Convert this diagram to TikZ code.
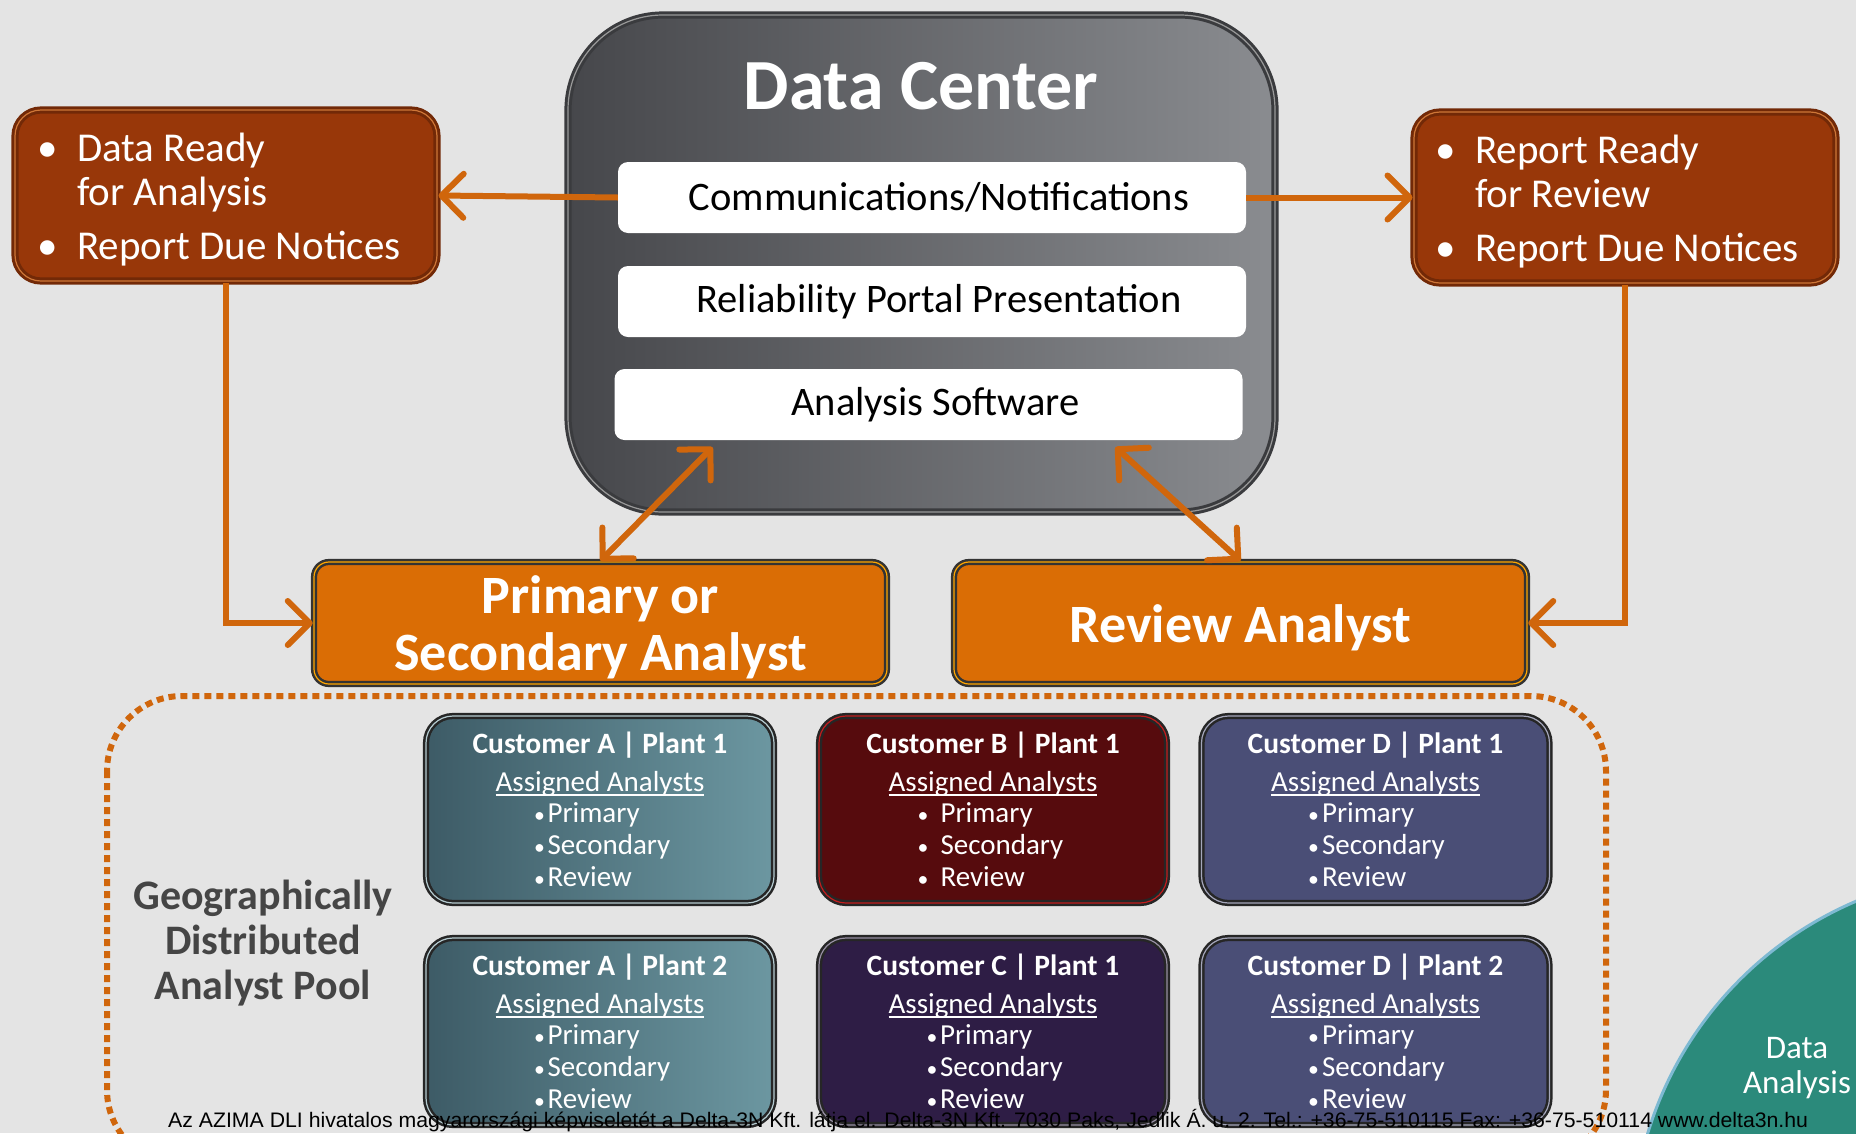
\documentclass[tikz,border=0pt]{standalone}
\usepackage{fontspec}
\setmainfont{Carlito}
\newfontfamily\footfont{Liberation Sans}
\usetikzlibrary{arrows.meta,positioning}

\definecolor{bggray}{HTML}{E4E4E4}
\definecolor{dcdark}{HTML}{46474B}
\definecolor{dclight}{HTML}{8A8C90}
\definecolor{rim}{HTML}{3A3B3E}
\definecolor{linkorange}{HTML}{D0660C}
\definecolor{boxorange}{HTML}{DA6D05}
\definecolor{boxbrown}{HTML}{983709}
\definecolor{tealA}{HTML}{3D5B66}
\definecolor{tealB}{HTML}{6C97A1}
\definecolor{wine}{HTML}{560B0D}
\definecolor{plum}{HTML}{2E1D45}
\definecolor{slate}{HTML}{4A4E76}
\definecolor{geo}{HTML}{454545}
\definecolor{sea}{HTML}{2B8A7B}

\newcommand\uln[1]{\setbox0\hbox{#1}\rlap{\rule[-4pt]{\wd0}{1.5pt}}\box0}
\newcommand\dotb{\scalebox{0.75}{\textbullet}}

\tikzset{
  dcbox/.style={rounded corners=95pt, left color=dcdark, right color=dclight,
    draw=rim, line width=3pt, double=gray!80, double distance=1.2pt,
    minimum width=707, minimum height=497},
  panel/.style={fill=white, rounded corners=10pt, minimum width=628, minimum height=71,
    font=\fontsize{40.5}{44}\selectfont},
  note/.style={rounded corners=26pt, fill=boxbrown, draw=boxbrown!75!black, line width=3pt,
    double=boxbrown!60!orange!80!white, double distance=1.2pt,
    minimum width=422, minimum height=171},
  notetext/.style={text=white, inner sep=0pt, anchor=west, font=\fontsize{41}{44}\selectfont},
  analyst/.style={rounded corners=15pt, fill=boxorange, draw=gray!40!black, line width=2.5pt,
    double=orange!70!yellow, double distance=1.2pt, minimum width=573, minimum height=122},
  analysttext/.style={text=white, align=center, font=\bfseries\fontsize{54}{57}\selectfont},
  cust/.style={rounded corners=27pt, draw=gray!30!black, line width=2.5pt,
    double distance=1.2pt, minimum width=348, minimum height=187},
  ctext/.style={text=white, inner sep=0pt, font=\fontsize{29}{32}\selectfont},
  link/.style={draw=linkorange, line width=6pt, ->},
  twoway/.style={draw=linkorange, line width=6pt, <->},
  >={Straight Barb[length=22pt,width=44pt,line cap=round,line join=round]}
}

\begin{document}
\begin{tikzpicture}[x=1pt,y=-1pt]
\useasboundingbox (0,0) rectangle (1856,1133);
\clip (0,0) rectangle (1856,1133);
\fill[bggray] (0,0) rectangle (1856,1133);

% data center
\node[dcbox] (dc) at (921.5,263.5) {};
\node[text=white, font=\bfseries\fontsize{72}{76}\selectfont] (dctitle) at (921,86) {Data Center};
\node[panel] (comm) at (932,197.5) {\hspace*{14pt}Communications/Notifications};
\node[panel] (portal) at (932,301.5) {\hspace*{14pt}Reliability Portal Presentation};
\node[panel] (soft) at (928.5,404.5) {\hspace*{14pt}Analysis Software};

% notices
\node[note] (ready) at (226,195.5) {};
\node[notetext] (ready-t) at ([xshift=24pt,yshift=-6pt]ready.west)
  {\begin{tabular}{@{}l@{\hspace{19pt}}l@{}}\textbullet & Data Ready\\ & for Analysis\\[10pt]
   \textbullet & Report Due Notices\end{tabular}};
\node[note] (rready) at (1625,197.5) {};
\node[notetext] (rready-t) at ([xshift=23pt,yshift=-6pt]rready.west)
  {\begin{tabular}{@{}l@{\hspace{19pt}}l@{}}\textbullet & Report Ready\\ & for Review\\[10pt]
   \textbullet & Report Due Notices\end{tabular}};

% analysts
\node[analyst] (prim) at (600.5,623) {};
\node[analysttext] (prim-t) at ([yshift=-4.5pt]prim.center) {Primary or\\Secondary Analyst};
\node[analyst] (rev) at (1240.5,623) {};
\node[analysttext] (rev-t) at ([yshift=-4.5pt]rev.center) {Review Analyst};

\draw[link] (comm.west) -- (ready.east);
\draw[link] (comm.east) -- (rready.west);
\draw[link] (ready.south) |- (prim.west);
\draw[link] (rready.south) |- (rev.east);
\draw[twoway] ([xshift=-216pt,yshift=-7pt]soft.south) -- (prim.north);
\draw[twoway] ([xshift=187pt,yshift=-7pt]soft.south) -- (rev.north);

% analyst pool
\draw[linkorange, line width=6pt, dash pattern=on 7pt off 5pt, rounded corners=75pt]
  (107,696) rectangle (1606,1165);
\node[text=geo, align=center, font=\bfseries\fontsize{42}{45}\selectfont] (pool) at (263,943)
  {Geographically\\Distributed\\Analyst Pool};

\foreach \nm/\px/\py/\fl/\fr/\hl/\ttl/\bx/\bs in {
  ca1/600/809.5/tealA/tealB/tealB!50!white/{Customer A | Plant 1}/-66/2.5,
  cb1/993/809.5/wine/wine/wine!40!red!90!white/{Customer B | Plant 1}/-75.5/12,
  cd1/1375.5/809.5/slate/slate/slate!50!white/{Customer D | Plant 1}/-67.5/3,
  ca2/600/1031.5/tealA/tealB/tealB!50!white/{Customer A | Plant 2}/-66/2.5,
  cc1/993/1031.5/plum/plum/plum!50!white/{Customer C | Plant 1}/-66.5/2.5,
  cd2/1375.5/1031.5/slate/slate/slate!50!white/{Customer D | Plant 2}/-67.5/3}{
  \node[cust, left color=\fl, right color=\fr, double=\hl] (\nm) at (\px,\py) {};
  \node[ctext, anchor=base, font=\bfseries\fontsize{29.5}{32}\selectfont] (\nm-t) at ([yshift=56.5pt]\nm.center) {\ttl};
  \node[ctext, anchor=base] (\nm-a) at ([yshift=18pt]\nm.center) {\uln{Assigned Analysts}};
  \foreach \lab [count=\k] in {Primary,Secondary,Review}
    \node[ctext, anchor=base west] (\nm-\k) at ([xshift=\bx pt, yshift={-13pt-32pt*(\k-1)}]\nm.center)
      {\dotb\hspace{\bs pt}\lab};
}

% data analysis circle
\draw[fill=sea, draw=cyan!40!teal!60!white, line width=3pt] (2000,1240) circle[radius=368pt];
\node[text=white, align=center, font=\fontsize{33}{35}\selectfont] (da) at (1797,1068) {Data\\Analysis};

\node[anchor=base west, inner sep=0pt, font=\footfont\fontsize{21}{24}\selectfont] (footer) at (168,1127)
  {\resizebox{1640pt}{\height}{Az AZIMA DLI hivatalos magyarországi képviseletét a Delta-3N Kft. látja el. Delta-3N Kft. 7030 Paks, Jedlik Á. u. 2. Tel.: +36-75-510115 Fax: +36-75-510114 www.delta3n.hu}};
\end{tikzpicture}
\end{document}
